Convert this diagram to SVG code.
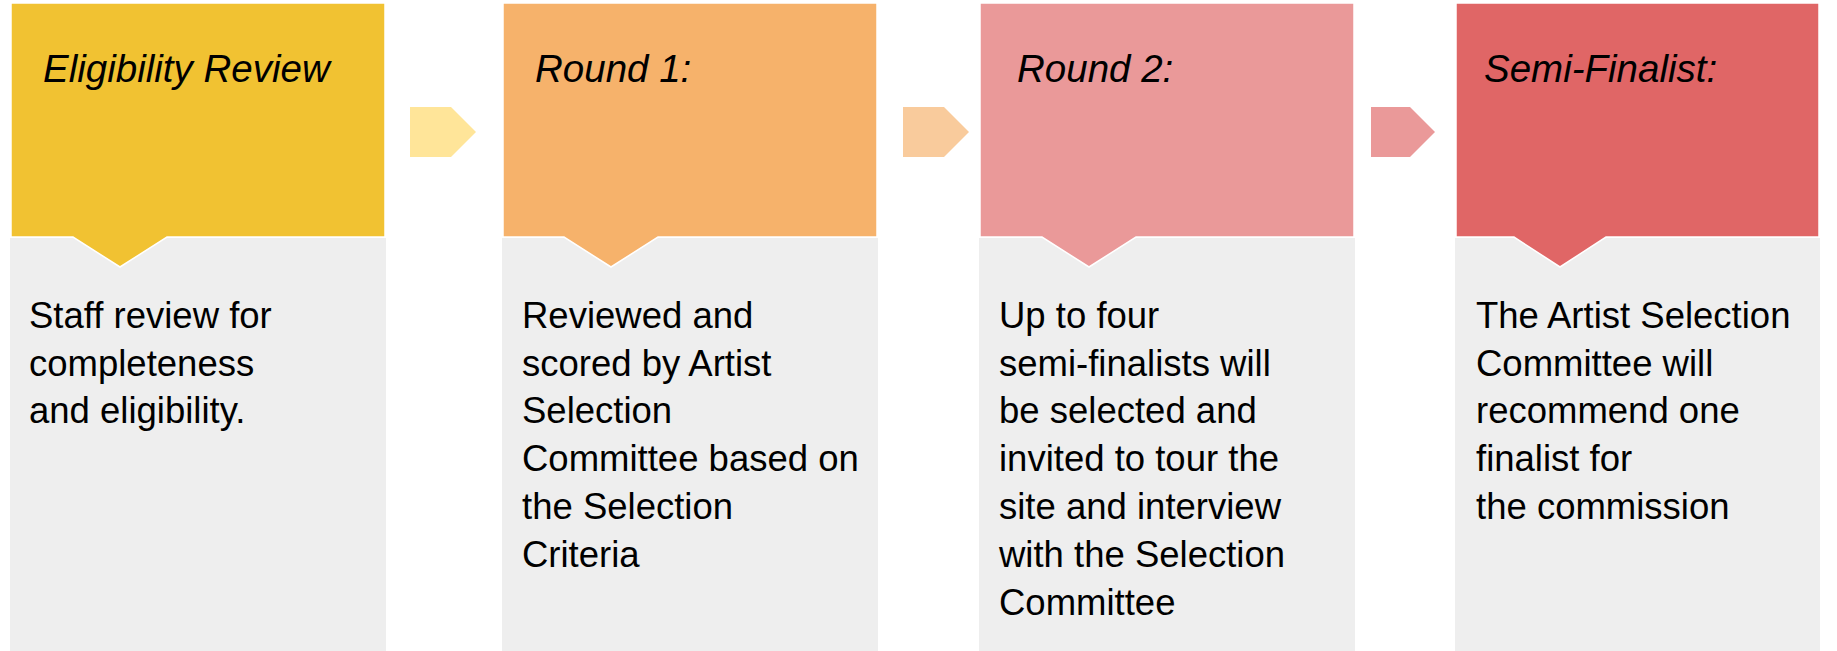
<svg xmlns="http://www.w3.org/2000/svg" width="1837" height="651" viewBox="0 0 1837 651">
<defs>
<style>
.bg{fill:#eeeeee}
.head{stroke:#ffffff;stroke-width:1.5;stroke-linejoin:miter}
.title{font-family:"Liberation Sans",Arial,sans-serif;font-style:italic;font-size:38.5px;fill:#000}
.body{font-family:"Liberation Sans",Arial,sans-serif;font-size:36.5px;fill:#000}
</style>
</defs>
<rect width="1837" height="651" fill="#ffffff"/>
<g id="connectors">
<polygon points="410,107 451,107 476,132 451,157 410,157" fill="#ffe599"/>
<polygon points="903,107 944,107 969,132 944,157 903,157" fill="#f9cb9c"/>
<polygon points="1371,107 1410,107 1435,132 1410,157 1371,157" fill="#ea9999"/>
</g>
<g id="node1">
<rect class="bg" x="10" y="238" width="376" height="413"/>
<polygon class="head" fill="#f1c232" points="11,3 385,3 385,237 167,237 120,267 73,237 11,237"/>
<text class="title" x="43" y="82">Eligibility Review</text>
<text class="body" x="29" y="328">Staff review for</text>
<text class="body" x="29" y="376">completeness</text>
<text class="body" x="29" y="423">and eligibility.</text>
</g>
<g id="node2">
<rect class="bg" x="502" y="238" width="376" height="413"/>
<polygon class="head" fill="#f6b26b" points="503,3 877,3 877,237 658,237 611,267 564,237 503,237"/>
<text class="title" x="535" y="82">Round 1:</text>
<text class="body" x="522" y="328">Reviewed and</text>
<text class="body" x="522" y="376">scored by Artist</text>
<text class="body" x="522" y="423">Selection</text>
<text class="body" x="522" y="471">Committee based on</text>
<text class="body" x="522" y="519">the Selection</text>
<text class="body" x="522" y="567">Criteria</text>
</g>
<g id="node3">
<rect class="bg" x="979" y="238" width="376" height="413"/>
<polygon class="head" fill="#ea9999" points="980,3 1354,3 1354,237 1136,237 1089,267 1042,237 980,237"/>
<text class="title" x="1017" y="82">Round 2:</text>
<text class="body" x="999" y="328">Up to four</text>
<text class="body" x="999" y="376">semi-finalists will</text>
<text class="body" x="999" y="423">be selected and</text>
<text class="body" x="999" y="471">invited to tour the</text>
<text class="body" x="999" y="519">site and interview</text>
<text class="body" x="999" y="567">with the Selection</text>
<text class="body" x="999" y="615">Committee</text>
</g>
<g id="node4">
<rect class="bg" x="1455" y="238" width="365" height="413"/>
<polygon class="head" fill="#e06666" points="1456,3 1819,3 1819,237 1606,237 1560,267 1514,237 1456,237"/>
<text class="title" x="1484" y="82">Semi-Finalist:</text>
<text class="body" x="1476" y="328">The Artist Selection</text>
<text class="body" x="1476" y="376">Committee will</text>
<text class="body" x="1476" y="423">recommend one</text>
<text class="body" x="1476" y="471">finalist for</text>
<text class="body" x="1476" y="519">the commission</text>
</g>
</svg>
